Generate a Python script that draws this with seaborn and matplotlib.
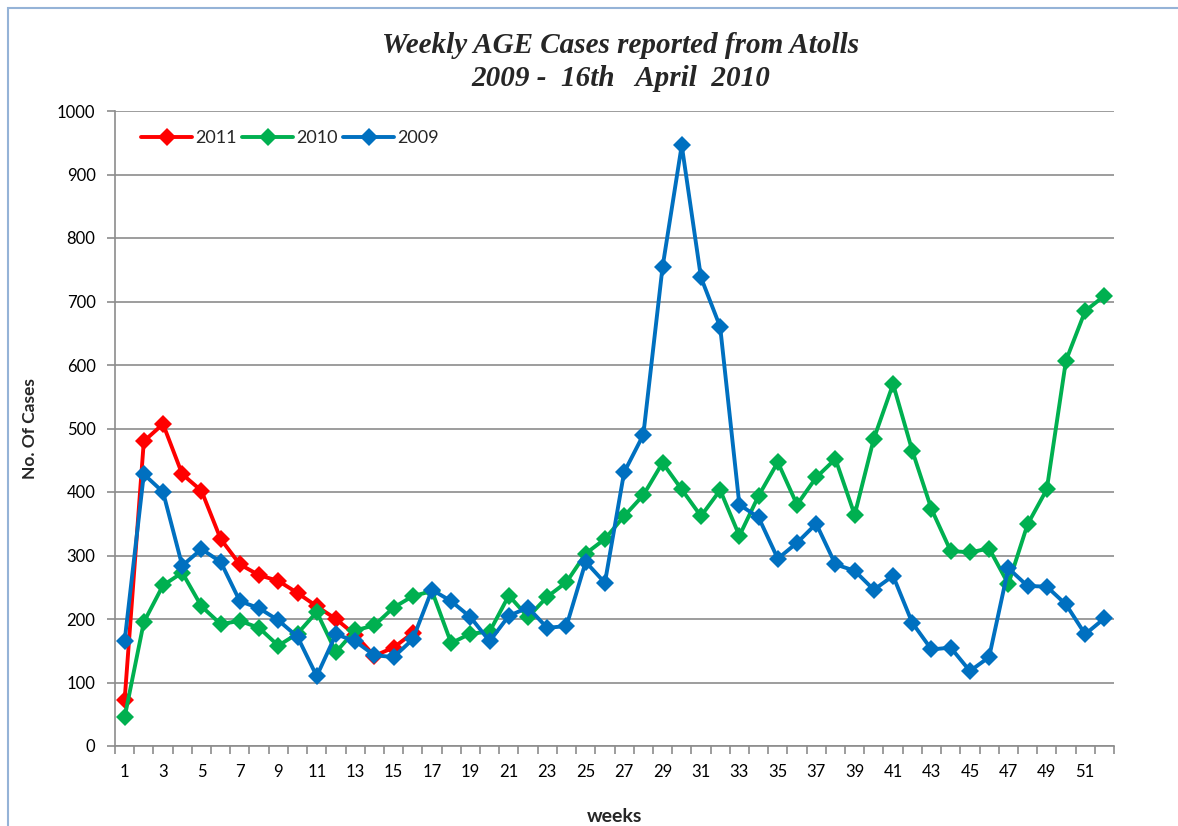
import pandas as pd
import numpy as np
import matplotlib.pyplot as plt
from matplotlib.patches import Rectangle
from matplotlib.ticker import MultipleLocator, FixedLocator
import seaborn as sns

# ── Data ──────────────────────────────────────────────────────────
weeks = list(range(1, 53))
cases_2011 = [72, 480, 507, 428, 402, 326, 286, 269, 260, 241, 220, 200, 175, 142, 155, 178]
cases_2010 = [45, 195, 253, 273, 220, 192, 197, 186, 158, 177, 211, 148, 182, 190, 218, 236,
              244, 162, 177, 180, 237, 203, 235, 258, 303, 326, 362, 395, 446, 404, 362, 403,
              331, 394, 447, 380, 423, 452, 364, 484, 570, 465, 373, 307, 305, 311, 255, 349,
              404, 607, 685, 709]
cases_2009 = [165, 428, 400, 284, 310, 290, 228, 217, 198, 172, 110, 176, 165, 143, 140, 168,
              246, 228, 203, 165, 205, 218, 186, 189, 290, 257, 431, 490, 754, 946, 738, 660,
              380, 360, 295, 320, 350, 286, 276, 246, 268, 194, 152, 155, 118, 140, 280, 252,
              251, 223, 176, 201]
years = ['2011', '2010', '2009']
colours = {'2011': '#FF0000', '2010': '#00B050', '2009': '#0070C0'}

df = pd.concat([
    pd.DataFrame({'week': weeks[:len(cases_2011)], 'cases': cases_2011, 'year': '2011'}),
    pd.DataFrame({'week': weeks, 'cases': cases_2010, 'year': '2010'}),
    pd.DataFrame({'week': weeks, 'cases': cases_2009, 'year': '2009'}),
])

sns.set_theme(style='white')
plt.rcParams['font.family'] = ['Lato', 'DejaVu Sans']

fig = plt.figure(figsize=(11.78, 8.26), dpi=100)
ax = fig.add_axes([115 / 1178, 80 / 826, 999 / 1178, 635 / 826])

sns.lineplot(data=df, x='week', y='cases', hue='year', hue_order=years, palette=colours,
             style='year', style_order=years, markers={y: 'D' for y in years}, dashes=False,
             linewidth=2.8, markersize=9, markeredgewidth=0, ax=ax)

# ── Axes styling (Excel look) ─────────────────────────────────────
ax.set_xlim(0.5, 52.5)
ax.set_ylim(0, 1000)
ax.yaxis.set_major_locator(MultipleLocator(100))
ax.xaxis.set_major_locator(FixedLocator(list(range(1, 53, 2))))
ax.xaxis.set_minor_locator(FixedLocator(list(np.arange(0.5, 53, 1))))
ax.grid(axis='y', color='#8C8C8C', linewidth=1.2)
ax.set_axisbelow(True)
for side in ['top', 'right']:
    ax.spines[side].set_visible(False)
for side in ['left', 'bottom']:
    ax.spines[side].set_color('#8C8C8C')
    ax.spines[side].set_linewidth(1.2)
ax.tick_params(axis='x', which='major', length=0, pad=13, labelsize=12, labelcolor='black')
ax.tick_params(axis='x', which='minor', length=6, width=1.2, color='#8C8C8C', direction='out', bottom=True)
ax.tick_params(axis='y', length=6, width=1.2, color='#8C8C8C', direction='out', left=True,
               pad=8, labelsize=12, labelcolor='black')

ax.set_xlabel('weeks', fontsize=14, fontweight='bold', labelpad=20)
ax.set_ylabel('No. Of Cases', fontsize=12.5, fontweight='bold', labelpad=14)

handles, labels = ax.get_legend_handles_labels()
ax.legend(handles, labels, loc='upper left', bbox_to_anchor=(0.01, 0.995), ncol=3, frameon=False,
          fontsize=13, handlelength=2.8, handletextpad=0.2, columnspacing=0.3)

fig.text(0.527, 0.945, 'Weekly AGE Cases reported from Atolls', ha='center', va='center',
         family='Liberation Serif', fontsize=21, fontweight='bold', style='italic')
fig.text(0.527, 0.905, '2009 -  16th   April  2010', ha='center', va='center',
         family='Liberation Serif', fontsize=21, fontweight='bold', style='italic')

# light frame around the chart area, as in the original sheet
fig.patches.append(Rectangle((8 / 1178, -0.01), 1.2, 1.0 - 8 / 826 + 0.01, transform=fig.transFigure,
                             fill=False, edgecolor='#95B3D7', linewidth=1.5))

plt.savefig('out.png', dpi=100)
